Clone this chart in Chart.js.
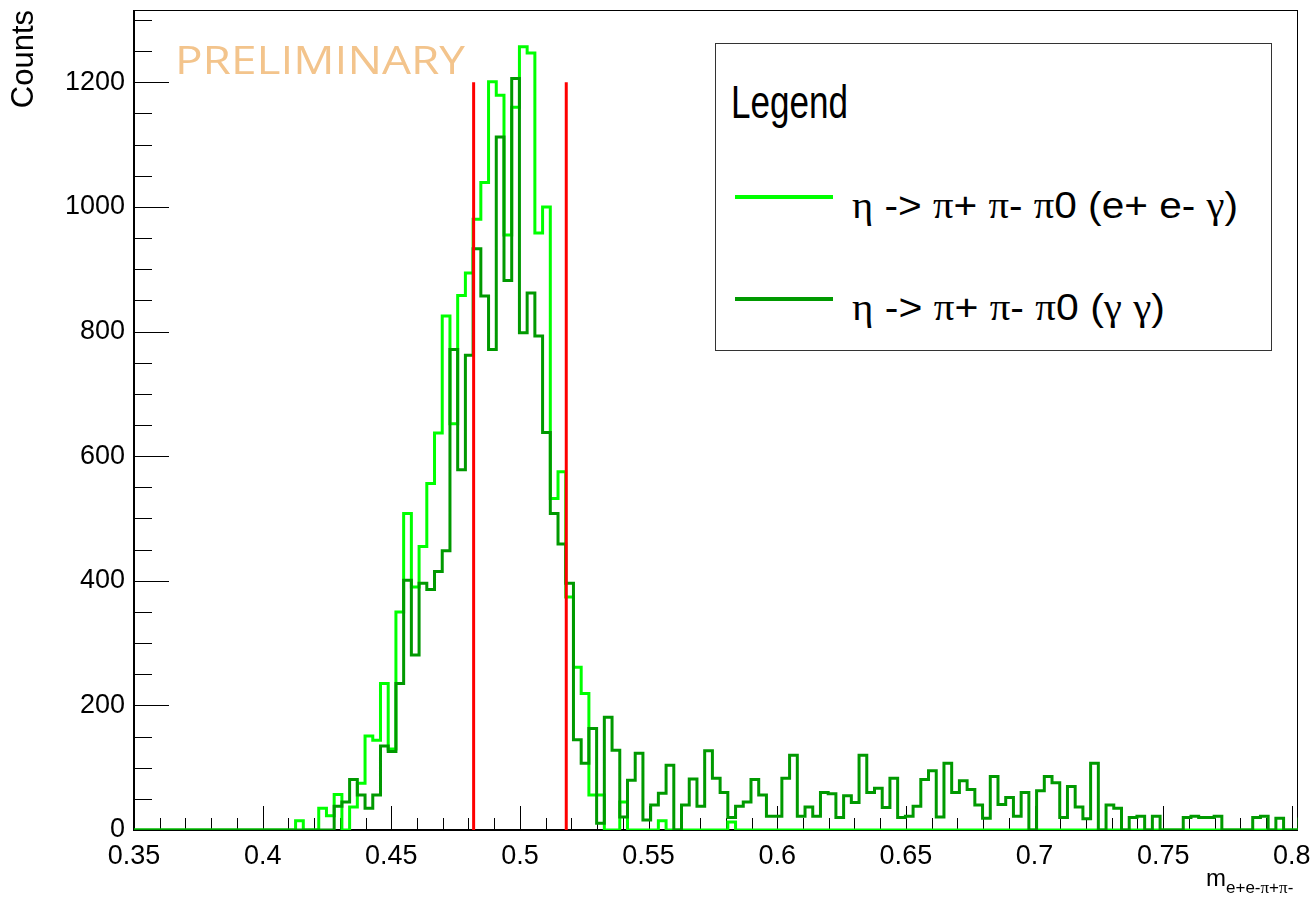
<!DOCTYPE html>
<html>
<head>
<meta charset="utf-8">
<script src="https://cdn.jsdelivr.net/npm/chart.js@4.4.1/dist/chart.umd.min.js"></script>
<style>
html, body { margin: 0; padding: 0; background: #fff; }
#wrap { position: relative; width: 1311px; height: 901px; overflow: hidden; background: #fff; }
#c { position: absolute; left: 0; top: 0; }
.ov { position: absolute; white-space: nowrap; line-height: 1; transform-origin: 0 0;
      font-family: "Liberation Sans", Arial, sans-serif; color: #000; }
.gr { font-family: "Liberation Serif", "DejaVu Serif", serif; }
#legendBox { position: absolute; left: 715px; top: 43px; width: 557px; height: 308px;
             border: 1.5px solid #333; background: #fff; box-sizing: border-box; }
.lgLine { position: absolute; height: 4px; }
</style>
</head>
<body>
<div id="wrap">
  <canvas id="c" width="1311" height="901"></canvas>
  <div id="prelim" class="ov" style="left:175px; top:40px; font-family:'Open Sans',sans-serif; font-size:38px; color:#f3c48c;">PRELIMINARY</div>
  <div id="legendBox"></div>
  <div id="lgTitle" class="ov" style="left:731px; top:77.5px; font-size:47px;">Legend</div>
  <div id="xTitleM" class="ov" style="left:1206px; top:866px; font-size:24px;">m</div>
  <div id="xTitleSub" class="ov" style="left:1226px; top:879px; font-size:17px;"></div>
</div>
<script>
// ---------------- data ----------------
const binLow = 0.3498;     // left edge of the first bin
const binWidth = 0.003;    // bin width
const seriesNames = ['η -> π+ π- π0 (e+ e- γ)', 'η -> π+ π- π0 (γ γ)'];
const xTitleSub = 'e+e-π+π-';
const yTitle = 'Counts';

// η -> π+ π- π0 (e+ e- γ)
const countsEEG = [
  0,0,0,0,0,0,0,0,0,0,
  0,0,0,0,0,0,0,0,0,0,
  0,
  15,0,0,35,23,57,0,37,75,151,
  144,235,130,350,508,390,455,556,637,825,
  652,858,894,980,1039,1201,1179,955,1160,1257,
  1247,958,1000,532,575,374,261,219,56,56,
  0,0,45,0,0,0,0,15,0,0,
  0,0,0,0,0,0,13,0,0,0,
  0,0,0,0,0,0,0,0,0,0,
  0,0,0,0,0,0,0,0,0,0,
  0,0,0,0,0,0,0,0,0,0,
  0,0,0,0,0,0,0,0,0,0,
  0,0,0,0,0,0,0,0,0,0,
  0,0,0,0,0,0,0,0,0,0,
  0,0,0,0,0,0,0,0,0,0,
  0
];

// η -> π+ π- π0 (γ γ)
const countsGG = [
  0,0,0,0,0,0,0,0,0,0,
  0,0,0,0,0,0,0,0,0,0,
  0,0,0,0,0,0,
  38,45,81,56,35,
  56,135,126,235,401,281,396,386,415,448,
  771,578,762,933,857,771,1112,882,1206,798,
  862,793,638,508,459,396,145,107,163,11,
  181,128,21,80,123,16,40,59,104,0,
  40,82,38,127,83,60,20,38,45,81,
  56,22,22,83,120,22,37,22,60,58,
  20,55,44,120,60,67,36,83,20,22,
  38,81,95,21,107,60,79,65,40,19,
  86,41,52,22,60,0,63,86,76,20,
  70,37,18,107,0,40,35,0,20,22,
  0,22,0,0,0,20,22,20,20,22,
  0,0,0,0,20,22,0,19,0,0,
  20
];

const cutLow = 0.482;
const cutHigh = 0.518;
const cutTop = 1200;

const xTickValues = [0.35, 0.4, 0.45, 0.5, 0.55, 0.6, 0.65, 0.7, 0.75, 0.8];
const xTickLabels = ['0.35', '0.4', '0.45', '0.5', '0.55', '0.6', '0.65', '0.7', '0.75', '0.8'];
const yTickValues = [0, 200, 400, 600, 800, 1000, 1200];
const yTickLabels = ['0', '200', '400', '600', '800', '1000', '1200'];
const xRange = [0.35, 0.8024];
const yRange = [0, 1316];
const xMinorStep = 0.01, xMajorEvery = 5;
const yMinorStep = 50, yMajorEvery = 4;

// ---------------- helpers ----------------
function histPoints(counts) {
  const pts = counts.map((c, i) => ({ x: binLow + i * binWidth, y: c }));
  pts.push({ x: binLow + counts.length * binWidth, y: counts[counts.length - 1] });
  return pts;
}
function fontAvailable(name) {
  const ctx = document.createElement('canvas').getContext('2d');
  const s = 'mmmmmmmmmmlli0123456789';
  ctx.font = '40px monospace'; const a = ctx.measureText(s).width;
  ctx.font = '40px "' + name + '", monospace'; const b = ctx.measureText(s).width;
  return Math.abs(a - b) > 0.5;
}
function greekSpans(t) {
  return t.replace(/[ηπγ]/g, m => '<span class="gr">' + m + '</span>');
}
function fitWidth(el, target) {
  el.style.transform = 'none';
  const w = el.getBoundingClientRect().width;
  if (w > 0) el.style.transform = 'scaleX(' + (target / w) + ')';
}
function noPad(s) { s.paddingLeft = 0; s.paddingRight = 0; s.paddingTop = 0; s.paddingBottom = 0; }

const narrow = fontAvailable('Liberation Sans Narrow');
const tickFont = narrow ? { family: '"Liberation Sans Narrow"', size: 32 }
                        : { family: '"Liberation Sans", Arial, sans-serif', size: 27 };

const colEEG = '#00ff00', colGG = '#009900', colCut = '#ff0000';

// ROOT-like frame with inward tick marks, positioned through the chart scales
const rootFrame = {
  id: 'rootFrame',
  beforeDatasetsDraw(chart) {
    const { ctx, chartArea: a, scales: { x, y } } = chart;
    ctx.save();
    ctx.strokeStyle = '#000';
    ctx.lineWidth = 1;
    ctx.beginPath();
    for (let k = 0; ; k++) {
      const v = xRange[0] + k * xMinorStep;
      if (v > x.max + 1e-9) break;
      const px = Math.round(x.getPixelForValue(v)) + 0.5;
      const len = (k % xMajorEvery === 0) ? 24 : 12;
      ctx.moveTo(px, a.bottom); ctx.lineTo(px, a.bottom - len);
    }
    for (let k = 0; ; k++) {
      const v = yRange[0] + k * yMinorStep;
      if (v > y.max + 1e-9) break;
      const py = Math.round(y.getPixelForValue(v)) + 0.5;
      const len = (k % yMajorEvery === 0) ? 35 : 18;
      ctx.moveTo(a.left, py); ctx.lineTo(a.left + len, py);
    }
    ctx.stroke();
    // top and right frame
    ctx.beginPath();
    ctx.moveTo(a.left, Math.round(a.top) + 0.5); ctx.lineTo(a.right, Math.round(a.top) + 0.5);
    ctx.moveTo(Math.round(a.right) - 0.5, a.top); ctx.lineTo(Math.round(a.right) - 0.5, a.bottom);
    ctx.stroke();
    // axes (left, bottom)
    ctx.lineWidth = 2;
    ctx.beginPath();
    ctx.moveTo(Math.round(a.left), a.top); ctx.lineTo(Math.round(a.left), a.bottom + 1);
    ctx.moveTo(a.left - 1, Math.round(a.bottom)); ctx.lineTo(a.right, Math.round(a.bottom));
    ctx.stroke();
    ctx.restore();
  }
};

Chart.defaults.color = '#000';
Chart.defaults.font.family = '"Liberation Sans", Arial, sans-serif';

new Chart(document.getElementById('c'), {
  type: 'line',
  data: {
    datasets: [
      { label: seriesNames[0], data: histPoints(countsEEG), borderColor: colEEG, borderWidth: 3,
        stepped: true, pointRadius: 0, fill: false, order: 2, borderJoinStyle: 'miter' },
      { label: seriesNames[1], data: histPoints(countsGG), borderColor: colGG, borderWidth: 3,
        stepped: true, pointRadius: 0, fill: false, order: 1, borderJoinStyle: 'miter' },
      { label: 'cut low', data: [{ x: cutLow, y: 0 }, { x: cutLow, y: cutTop }], borderColor: colCut,
        borderWidth: 3, pointRadius: 0, fill: false, order: 0 },
      { label: 'cut high', data: [{ x: cutHigh, y: 0 }, { x: cutHigh, y: cutTop }], borderColor: colCut,
        borderWidth: 3, pointRadius: 0, fill: false, order: 0 }
    ]
  },
  options: {
    responsive: false,
    animation: false,
    devicePixelRatio: 1,
    layout: { padding: { left: 0, top: 10, right: 13, bottom: 0 }, autoPadding: false },
    plugins: { legend: { display: false }, tooltip: { enabled: false }, title: { display: false } },
    elements: { line: { tension: 0 } },
    scales: {
      x: {
        type: 'linear', min: xRange[0], max: xRange[1], bounds: 'data',
        grid: { display: false, drawTicks: false }, border: { display: false },
        afterBuildTicks: s => { s.ticks = xTickValues.map(v => ({ value: v })); },
        afterFit: s => { s.height = 71; noPad(s); },
        ticks: { autoSkip: false, maxRotation: 0, minRotation: 0, padding: 10, font: tickFont, color: '#000',
                 callback: (v, i) => xTickLabels[i] }
      },
      y: {
        type: 'linear', min: yRange[0], max: yRange[1], bounds: 'data',
        grid: { display: false, drawTicks: false }, border: { display: false },
        afterBuildTicks: s => { s.ticks = yTickValues.map(v => ({ value: v })); },
        afterFit: s => { s.width = 134; noPad(s); },
        ticks: { autoSkip: false, padding: 9, font: tickFont, color: '#000',
                 callback: (v, i) => yTickLabels[i] },
        title: { display: true, text: yTitle, align: 'end', color: '#000',
                 font: { family: '"Liberation Sans", Arial, sans-serif', size: 31 },
                 padding: { top: 5.4, bottom: 0 } }
      }
    }
  },
  plugins: [rootFrame]
});

// ---------------- legend & overlays ----------------
const wrap = document.getElementById('wrap');
const lgLayout = [
  { lineTop: 195, textTop: 187.4, width: 386, color: colEEG },
  { lineTop: 296.7, textTop: 288.7, width: 313, color: colGG }
];
seriesNames.forEach((name, i) => {
  const L = lgLayout[i];
  const ln = document.createElement('div');
  ln.className = 'lgLine';
  ln.style.cssText = 'left:735px;top:' + L.lineTop + 'px;width:98px;background:' + L.color + ';';
  wrap.appendChild(ln);
  const tx = document.createElement('div');
  tx.className = 'ov';
  tx.style.cssText = 'left:852px;top:' + L.textTop + 'px;font-size:37px;';
  tx.innerHTML = greekSpans(name);
  wrap.appendChild(tx);
  fitWidth(tx, L.width);
});
document.getElementById('xTitleSub').innerHTML = greekSpans(xTitleSub);
fitWidth(document.getElementById('prelim'), 290);
fitWidth(document.getElementById('lgTitle'), 117);
</script>
</body>
</html>
